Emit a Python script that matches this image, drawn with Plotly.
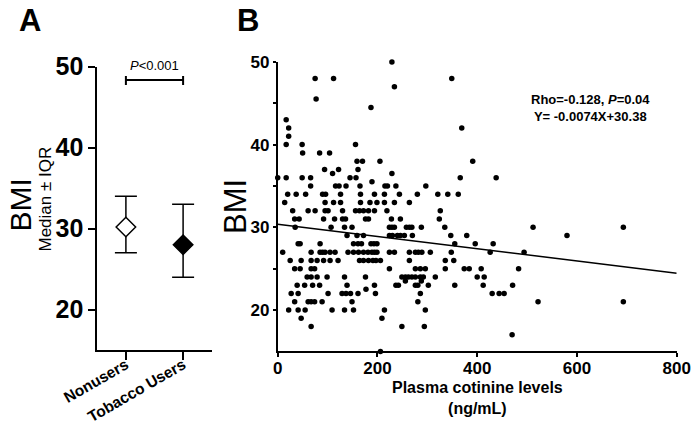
import plotly.graph_objects as go

# ---------------- Panel A data ----------------
groups = ["Nonusers", "Tobacco Users"]
group_median = [30.2, 28.0]
group_q1 = [27.0, 24.0]
group_q3 = [34.0, 33.0]
group_fill = ["white", "black"]
p_text_a = "<i>P</i>&lt;0.001"
bracket_y = 48.35

# ---------------- Panel B data ----------------
cotinine = (
    [229]
    + [75, 112, 349]
    + [234]
    + [77]
    + [187]
    + [17]
    + [22, 369]
    + [22]
    + [17, 49, 156]
    + [50, 84, 104]
    + [159, 170, 205, 391]
    + [94, 122, 161]
    + [110, 229]
    + [0, 17, 49, 66, 145, 157, 366, 438]
    + [189]
    + [66, 116, 123, 137, 165, 215, 220, 237, 297]
    + [20, 37, 56, 90, 96, 126, 166, 194, 214, 244, 280, 321, 341, 362]
    + [14, 95, 112, 126, 166, 185, 199, 214, 234, 264]
    + [30, 61, 75, 95, 101, 130, 156, 164, 172, 182, 194, 219, 326]
    + [34, 43, 92, 114, 130, 136, 176, 182, 228, 246, 324]
    + [35, 107, 134, 149, 224, 229, 234, 258, 264, 269, 288, 335, 512, 693]
    + [139, 159, 172, 224, 230, 240, 246, 254, 270, 347, 379, 580]
    + [41, 45, 85, 152, 161, 168, 187, 193, 199, 355, 396, 432]
    + [10, 67, 85, 90, 95, 105, 115, 141, 152, 162, 172, 181, 189, 194, 199,
       224, 234, 264, 276, 282, 289, 306, 348, 426, 494]
    + [25, 47, 67, 79, 92, 105, 121, 164, 172, 182, 191, 197, 206, 264, 336, 353]
    + [34, 45, 67, 74, 224, 276, 286, 296, 336, 374, 384, 408, 483]
    + [59, 67, 79, 99, 134, 176, 249, 256, 262, 269, 276, 286, 292, 316, 400, 414]
    + [256, 288]
    + [39, 54, 70, 84, 139, 194, 237, 242, 276, 281, 302, 355, 412, 471]
    + [177]
    + [27, 41, 101, 129, 137, 146, 161, 196, 286, 430, 444, 454]
    + [34, 61, 67, 74, 89, 149, 281, 522, 693]
    + [22, 41, 55, 109, 134, 152, 214, 296]
    + [47, 209]
    + [67, 249, 294]
    + [470]
    + [206]
)
bmi_levels = [50, 48, 47, 45.5, 44.5, 43, 42, 41, 40, 39, 38, 37, 36.5, 36, 35.5, 35,
              34, 33, 32, 31, 30, 29, 28, 27, 26, 25, 24, 23.5, 23, 22.5, 22, 21,
              20, 19, 18, 17, 15]
bmi_counts = [1, 3, 1, 1, 1, 1, 2, 1, 3, 3, 4, 3, 2, 8, 1, 9,
              14, 10, 13, 11, 14, 12, 12, 25, 16, 13, 16, 2, 14, 1, 12, 9,
              8, 2, 3, 1, 1]
bmi = []
for lvl, n in zip(bmi_levels, bmi_counts):
    bmi += [lvl] * n

reg_slope = -0.0074
reg_intercept = 30.38
reg_x = [0, 800]
reg_y = [reg_intercept + reg_slope * v for v in reg_x]
stats_text = "<b>Rho=-0.128, <i>P</i>=0.04</b><br><b>Y= -0.0074X+30.38</b>"

FONT = "Liberation Sans"
FW, FH = 695, 433


def px(p):
    return p / FW


def py(p):
    return 1 - p / FH


fig = go.Figure()

# Panel A
for i, g in enumerate(groups):
    fig.add_trace(go.Scatter(
        x=[i], y=[group_median[i]], mode="markers",
        error_y=dict(type="data", symmetric=False,
                     array=[group_q3[i] - group_median[i]],
                     arrayminus=[group_median[i] - group_q1[i]],
                     color="black", thickness=1.5, width=11),
        marker=dict(symbol="diamond", size=15, color=group_fill[i],
                    line=dict(color="black", width=1.5)),
        xaxis="x", yaxis="y", showlegend=False, cliponaxis=False))

# Panel B
fig.add_trace(go.Scatter(
    x=cotinine, y=bmi, mode="markers",
    marker=dict(size=5.5, color="black"),
    xaxis="x2", yaxis="y2", showlegend=False, cliponaxis=False))
fig.add_trace(go.Scatter(
    x=reg_x, y=reg_y, mode="lines", line=dict(color="black", width=1.5),
    xaxis="x2", yaxis="y2", showlegend=False))

axis_a = dict(showgrid=False, zeroline=False, showline=True, linecolor="black",
              linewidth=2, ticks="outside", tickcolor="black", tickwidth=2,
              automargin=False)
axis_b = dict(showgrid=False, zeroline=False, showline=True, linecolor="black",
              linewidth=1.6, ticks="outside", tickcolor="black", tickwidth=1.6,
              automargin=False)

fig.update_layout(
    width=FW, height=FH, margin=dict(l=0, r=0, t=0, b=0, autoexpand=False),
    paper_bgcolor="white", plot_bgcolor="white",
    font=dict(family=FONT, color="black"),
    xaxis=dict(domain=[px(97.3), px(211.7)], range=[-0.5, 1.5],
               tickvals=list(range(len(groups))), ticktext=groups, tickangle=-30,
               ticklen=8, ticklabelstandoff=-10,
               tickfont=dict(size=15.5, weight="bold"), anchor="y", **axis_a),
    yaxis=dict(domain=[py(350), py(66.7)], range=[15, 50],
               tickvals=[20, 30, 40, 50], ticklen=7,
               tickfont=dict(size=25, weight="bold"), anchor="x", **axis_a),
    xaxis2=dict(domain=[px(277.7), px(676.7)], range=[0, 800],
                tickvals=[0, 200, 400, 600, 800], ticklen=4, ticklabelstandoff=-4,
                tickfont=dict(size=17, weight="bold"), anchor="y2", **axis_b),
    yaxis2=dict(domain=[py(351.4), py(61.9)], range=[15, 50],
                tickvals=[20, 30, 40, 50], ticklen=3,
                minor=dict(tickvals=[25, 35, 45], ticks="outside", ticklen=3,
                           tickwidth=1.6, tickcolor="black"),
                tickfont=dict(size=17, weight="bold"), anchor="x2", **axis_b),
)

# bracket in panel A
fig.add_shape(type="line", xref="x", yref="y", x0=0, x1=1, y0=bracket_y, y1=bracket_y,
              line=dict(color="black", width=2))
for xv in [0, 1]:
    fig.add_shape(type="line", xref="x", yref="y", x0=xv, x1=xv,
                  y0=bracket_y - 0.6, y1=bracket_y + 0.5, line=dict(color="black", width=2))

ann = [
    dict(text="<b>A</b>", x=px(30), y=py(21), font=dict(size=31)),
    dict(text="<b>B</b>", x=px(248), y=py(21), font=dict(size=31)),
    dict(text="BMI", x=px(20), y=py(205.5), textangle=-90, font=dict(size=30)),
    dict(text="Median ± IQR", x=px(45), y=py(199.5), textangle=-90, font=dict(size=17)),
    dict(text="BMI", x=px(235), y=py(207), textangle=-90, font=dict(size=31)),
    dict(text=stats_text, x=px(590), y=py(108.5), font=dict(size=13)),
    dict(text="<b>Plasma cotinine levels</b><br><b>(ng/mL)</b>", x=px(477),
         y=py(398), font=dict(size=16)),
]
for a in ann:
    fig.add_annotation(xref="paper", yref="paper", showarrow=False, borderpad=0,
                       xanchor="center", yanchor="middle", **a)
fig.add_annotation(xref="x", yref="paper", x=0.5, y=py(65.5), text=p_text_a,
                   showarrow=False, font=dict(size=13), xanchor="center", yanchor="middle")

fig.write_html("out.html", config={"displayModeBar": False},
               post_script="document.body.style.margin='0';document.body.style.overflow='hidden';")
